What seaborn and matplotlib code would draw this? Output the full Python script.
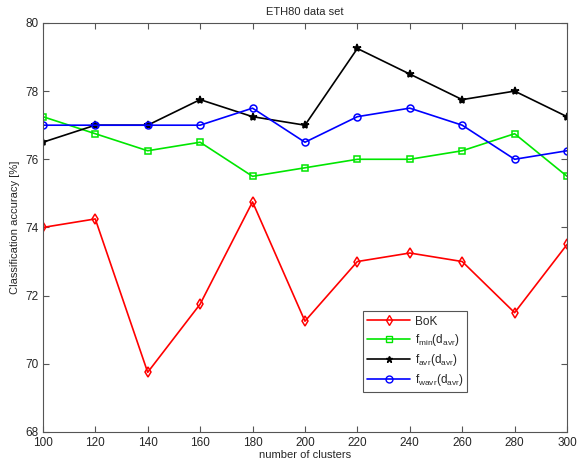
import matplotlib
matplotlib.use("Agg")
import matplotlib.pyplot as plt
import seaborn as sns
import pandas as pd
from matplotlib.lines import Line2D

clusters = [100, 120, 140, 160, 180, 200, 220, 240, 260, 280, 300]
bok = [74.0, 74.25, 69.75, 71.75, 74.75, 71.25, 73.0, 73.25, 73.0, 71.5, 73.5]
fmin = [77.25, 76.75, 76.25, 76.5, 75.5, 75.75, 76.0, 76.0, 76.25, 76.75, 75.5]
favr = [76.5, 77.0, 77.0, 77.75, 77.25, 77.0, 79.25, 78.5, 77.75, 78.0, 77.25]
fwavr = [77.0, 77.0, 77.0, 77.0, 77.5, 76.5, 77.25, 77.5, 77.0, 76.0, 76.25]
names = ["BoK", r"f$_{min}$(d$_{avr}$)", r"f$_{avr}$(d$_{avr}$)", r"f$_{wavr}$(d$_{avr}$)"]
colors = ["#ff0000", "#00e600", "#000000", "#0000ff"]
xticks = [100, 120, 140, 160, 180, 200, 220, 240, 260, 280, 300]
yticks = [68, 70, 72, 74, 76, 78, 80]

rows = []
for n, vals in zip(names, [bok, fmin, favr, fwavr]):
    for c, v in zip(clusters, vals):
        rows.append({"clusters": c, "acc": v, "series": n})
df = pd.DataFrame(rows)

sns.set_style("white")
plt.rcParams["font.family"] = ["Liberation Sans", "DejaVu Sans"]
plt.rcParams["mathtext.fontset"] = "custom"
plt.rcParams["mathtext.rm"] = "Liberation Sans"
plt.rcParams["mathtext.it"] = "Liberation Sans"

fig = plt.figure(figsize=(5.87, 4.68), dpi=100)
ax = fig.add_axes([0.073, 0.077, 0.893, 0.874])

markers = {names[0]: "d", names[1]: "s", names[2]: "*", names[3]: "o"}
sns.lineplot(data=df, x="clusters", y="acc", hue="series", style="series",
             markers=markers, dashes=False, palette=dict(zip(names, colors)),
             linewidth=1.2, ax=ax, legend=False)
for line, n, c in zip(ax.get_lines(), names, colors):
    line.set_markeredgecolor(c)
    line.set_markeredgewidth(1.1)
    if n != names[2]:
        line.set_markerfacecolor("none")
        line.set_markersize(5)
    else:
        line.set_markerfacecolor(c)
        line.set_markersize(6)

ax.set_xlim(100, 300)
ax.set_ylim(68, 80)
ax.set_xticks(xticks)
ax.set_yticks(yticks)
ax.tick_params(direction="in", bottom=True, left=True, top=True, right=True,
               labelsize=8.5, length=4, width=0.8, color="#555555")
ax.tick_params(axis="x", pad=3.5)
ax.tick_params(axis="y", pad=3)
for s in ax.spines.values():
    s.set_color("#555555")
    s.set_linewidth(0.8)
ax.set_xlabel("number of clusters", fontsize=8, labelpad=1)
ax.set_ylabel("Classification accuracy [%]", fontsize=8, labelpad=4)
ax.set_title("ETH80 data set", fontsize=8, pad=6)

handles = []
for n, c in zip(names, colors):
    mfc = c if n == names[2] else "none"
    handles.append(Line2D([], [], color=c, marker=markers[n], markerfacecolor=mfc,
                          markeredgecolor=c, markersize=5, linewidth=1.2))
leg = ax.legend(handles, names, loc="lower left", bbox_to_anchor=(0.60, 0.083),
                fontsize=8.5, frameon=True, fancybox=False, framealpha=1,
                edgecolor="#555555", borderpad=0.35, labelspacing=0.35, handlelength=3.6,
                handletextpad=0.4)
leg.get_frame().set_linewidth(0.8)

fig.savefig("out.png", dpi=100, facecolor="white")
